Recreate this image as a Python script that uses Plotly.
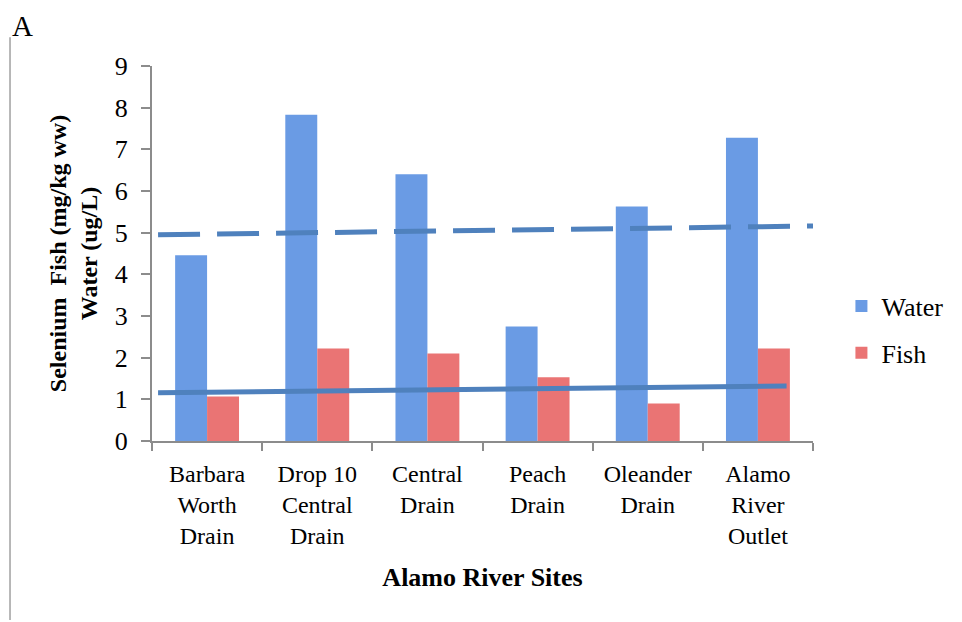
import plotly.graph_objects as go

sites = ["Barbara<br>Worth<br>Drain", "Drop 10<br>Central<br>Drain", "Central<br>Drain",
         "Peach<br>Drain", "Oleander<br>Drain", "Alamo<br>River<br>Outlet"]
site_pos = [0, 1, 2, 3, 4, 5]
water = [4.46, 7.83, 6.40, 2.75, 5.63, 7.28]
fish = [1.07, 2.22, 2.10, 1.53, 0.90, 2.22]

# trend lines (endpoints, x in category units)
water_trend_x = [-0.445, 5.5]
water_trend_y = [4.95, 5.16]
fish_trend_x = [-0.445, 5.26]
fish_trend_y = [1.16, 1.32]

y_ticks = [0, 1, 2, 3, 4, 5, 6, 7, 8, 9]
boundaries = [-0.5, 0.5, 1.5, 2.5, 3.5, 4.5, 5.5]

SERIF = "Liberation Serif, Times New Roman, serif"
AXIS_GREY = "#8c8c8c"

fig = go.Figure()
fig.add_trace(go.Bar(x=site_pos, y=water, name="Water",
                     marker=dict(color="#6a9be4", line=dict(width=0)),
                     legendgroup="w"))
fig.add_trace(go.Bar(x=site_pos, y=fish, name="Fish",
                     marker=dict(color="#ea7474", line=dict(width=0)),
                     legendgroup="f"))
fig.add_trace(go.Scatter(x=water_trend_x, y=water_trend_y, mode="lines",
                         line=dict(color="#4f81bd", width=5, dash="42px,17px"),
                         showlegend=False, hoverinfo="skip"))
fig.add_trace(go.Scatter(x=fish_trend_x, y=fish_trend_y, mode="lines",
                         line=dict(color="#4f81bd", width=5),
                         showlegend=False, hoverinfo="skip"))

fig.update_layout(
    width=954, height=614,
    margin=dict(l=144, r=149, t=58, b=181),
    paper_bgcolor="white", plot_bgcolor="white",
    barmode="group", bargap=0.42, bargroupgap=0,
    font=dict(family=SERIF, size=25, color="black"),
    showlegend=True,
    legend=dict(x=1.043, y=0.297, xanchor="left", yanchor="middle",
                font=dict(size=26, family=SERIF), traceorder="grouped",
                tracegroupgap=10, bgcolor="rgba(0,0,0,0)"),
    xaxis=dict(range=[-0.5, 5.5], tickmode="array", tickvals=site_pos, ticktext=sites,
               ticks="", showline=True, linecolor=AXIS_GREY, linewidth=2,
               showgrid=False, zeroline=False,
               tickfont=dict(size=24, family=SERIF), ticklabelstandoff=10,
               minor=dict(tickmode="array", tickvals=boundaries, ticks="outside",
                          ticklen=8, tickcolor=AXIS_GREY, tickwidth=2, showgrid=False),
               title=dict(text="<b>Alamo River Sites</b>", font=dict(size=26, family=SERIF),
                          standoff=20),
               fixedrange=True),
    yaxis=dict(range=[0, 9], tickmode="array", tickvals=y_ticks,
               ticks="outside", ticklen=9, tickcolor=AXIS_GREY, tickwidth=2,
               showline=True, linecolor=AXIS_GREY, linewidth=2,
               showgrid=False, zeroline=False,
               tickfont=dict(size=26, family=SERIF), ticklabelstandoff=8,
               title=dict(text="<b>Selenium  Fish (mg/kg ww)<br>Water (ug/L)</b>",
                          font=dict(size=24, family=SERIF), standoff=10),
               fixedrange=True),
    shapes=[dict(type="line", xref="paper", yref="paper",
                 x0=-0.2148, x1=-0.2148, y0=1.077, y1=-0.477,
                 line=dict(color="#a0a0a0", width=1.5))],
    annotations=[dict(text="A", xref="paper", yref="paper", x=-0.196, y=1.1547,
                      showarrow=False, font=dict(size=29, family=SERIF),
                      xanchor="center", yanchor="top")],
)

fig.write_html("out.html")
